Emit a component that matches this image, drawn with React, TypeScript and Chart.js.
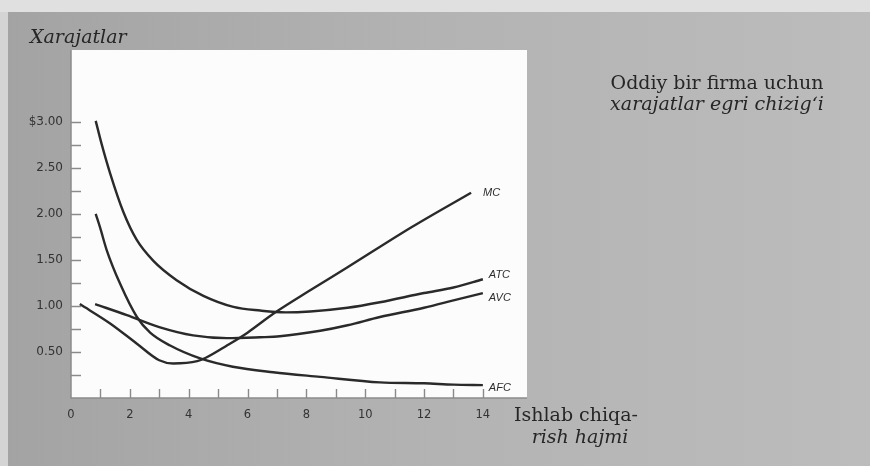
import React, { useEffect, useRef } from "react";
import { Chart, registerables } from "chart.js";

Chart.register(...registerables);

// ---- data ----
const mcX = [0.3, 1.33, 2.24, 3.0, 3.47, 4.29, 4.6, 5.3, 6.0, 6.9, 8.13, 9.4, 11.6, 13.6];
const mcY = [1.02, 0.81, 0.59, 0.41, 0.375, 0.4, 0.44, 0.57, 0.71, 0.92, 1.17, 1.42, 1.86, 2.23];

const atcX = [0.84, 1.04, 1.33, 1.78, 2.23, 2.8, 3.59, 4.5, 5.52, 6.43, 7.3, 8.13, 9.4, 10.5, 12, 13, 14];
const atcY = [3.01, 2.76, 2.44, 2.02, 1.72, 1.49, 1.28, 1.11, 0.99, 0.95, 0.93, 0.94, 0.98, 1.04, 1.14, 1.2, 1.29];

const avcX = [0.82, 1.9, 3.0, 4.15, 5.3, 6.43, 7.1, 8.47, 9.4, 10.5, 12, 13, 14];
const avcY = [1.02, 0.9, 0.77, 0.68, 0.65, 0.66, 0.67, 0.73, 0.79, 0.88, 0.98, 1.06, 1.14];

const afcX = [0.84, 0.99, 1.21, 1.67, 2.24, 2.69, 3.37, 4.39, 5.5, 6.87, 8.47, 10.5, 12, 13, 14];
const afcY = [2.0, 1.85, 1.61, 1.24, 0.88, 0.71, 0.57, 0.43, 0.34, 0.28, 0.23, 0.17, 0.16, 0.145, 0.14];

const seriesNames = ["MC", "ATC", "AVC", "AFC"];

// tick marks and labels
const xTickMarks = [1, 2, 3, 4, 5, 6, 7, 8, 9, 10, 11, 12, 13, 14];
const yTickMarks = [0.25, 0.5, 0.75, 1, 1.25, 1.5, 1.75, 2, 2.25, 2.5, 2.75, 3];
const xLabelMax = 14;
const yLabelMax = 3;

// texts
const yAxisTitle = "Xarajatlar";
const noteLines = ["Oddiy bir firma uchun", "xarajatlar egri chizigʻi"];
const xAxisTitleLines = ["Ishlab chiqa-", "rish hajmi"];

// ---- styling ----
const LINE = "#2a2a2a";
const labelOffsets = [
  { dx: 12, dy: 0 },
  { dx: 6, dy: -4 },
  { dx: 6, dy: 5 },
  { dx: 6, dy: 3 },
];

const toPoints = (xs: number[], ys: number[]) => xs.map((x, i) => ({ x, y: ys[i] }));

const bgPlugin = {
  id: "scanBg",
  beforeDraw(chart: any) {
    const { ctx, width, height, chartArea: a } = chart;
    ctx.save();
    const g = ctx.createLinearGradient(0, 0, width, 0);
    g.addColorStop(0, "#a3a3a3");
    g.addColorStop(0.5, "#b3b3b3");
    g.addColorStop(1, "#bcbcbc");
    ctx.fillStyle = g;
    ctx.fillRect(0, 0, width, height);
    ctx.fillStyle = "#e0e0e0";
    ctx.fillRect(0, 0, width, 12);
    ctx.fillStyle = "#d4d4d4";
    ctx.fillRect(0, 12, 8, height - 12);
    ctx.fillStyle = "#fcfcfc";
    ctx.fillRect(a.left, a.top, a.right - a.left, a.bottom - a.top);
    ctx.restore();
  },
  beforeDatasetsDraw(chart: any) {
    const { ctx, chartArea: a, scales } = chart;
    const xs = scales.x;
    const ys = scales.y;
    ctx.save();
    ctx.strokeStyle = "#8c8c8c";
    ctx.lineWidth = 1.5;
    ctx.beginPath();
    ctx.moveTo(a.left, a.top);
    ctx.lineTo(a.left, a.bottom);
    ctx.lineTo(a.right, a.bottom);
    ctx.stroke();
    ctx.strokeStyle = "#8a8a8a";
    ctx.lineWidth = 1.4;
    ctx.beginPath();
    xTickMarks.forEach((v) => {
      const px = Math.round(xs.getPixelForValue(v)) + 0.5;
      ctx.moveTo(px, a.bottom);
      ctx.lineTo(px, a.bottom - 9);
    });
    yTickMarks.forEach((v) => {
      const py = Math.round(ys.getPixelForValue(v)) + 0.5;
      ctx.moveTo(a.left, py);
      ctx.lineTo(a.left + 10, py);
    });
    ctx.stroke();
    ctx.restore();
  },
  afterDraw(chart: any) {
    const { ctx } = chart;
    ctx.save();
    ctx.fillStyle = "#262626";
    ctx.textBaseline = "alphabetic";
    ctx.textAlign = "left";
    ctx.font = "italic 19px 'DejaVu Serif'";
    ctx.fillText(yAxisTitle, 30, 43);
    ctx.textAlign = "center";
    ctx.font = "19px 'DejaVu Serif'";
    ctx.fillText(noteLines[0], 717, 89);
    ctx.font = "italic 19px 'DejaVu Serif'";
    ctx.fillText(noteLines[1], 717, 110);
    ctx.font = "19px 'DejaVu Serif'";
    ctx.fillText(xAxisTitleLines[0], 576, 421);
    ctx.font = "italic 19px 'DejaVu Serif'";
    ctx.fillText(xAxisTitleLines[1], 580, 443);
    ctx.textAlign = "left";
    ctx.textBaseline = "middle";
    ctx.font = "italic 11px 'Liberation Sans'";
    ctx.fillStyle = "#2e2e2e";
    chart.data.datasets.forEach((ds: any, i: number) => {
      const meta = chart.getDatasetMeta(i);
      const last = meta.data[meta.data.length - 1];
      if (!last) return;
      ctx.fillText(ds.label, last.x + labelOffsets[i].dx, last.y + labelOffsets[i].dy);
    });
    ctx.restore();
  },
};

export default function App() {
  const ref = useRef<HTMLCanvasElement | null>(null);

  useEffect(() => {
    if (!ref.current) return;
    const seriesX = [mcX, atcX, avcX, afcX];
    const seriesY = [mcY, atcY, avcY, afcY];
    const chart = new Chart(ref.current, {
      type: "line",
      data: {
        datasets: seriesNames.map((name, i) => ({
          label: name,
          data: toPoints(seriesX[i], seriesY[i]),
          borderColor: LINE,
          borderWidth: 2.4,
          pointRadius: 0,
          fill: false,
          cubicInterpolationMode: "monotone" as const,
        })),
      },
      options: {
        animation: false,
        responsive: false,
        maintainAspectRatio: false,
        layout: { padding: { left: 0, top: 50, right: 343, bottom: 0 } },
        plugins: {
          legend: { display: false },
          tooltip: { enabled: false },
          title: { display: false },
        },
        scales: {
          x: {
            type: "linear",
            min: 0,
            max: 15.5,
            grid: { display: false, drawTicks: false },
            border: { display: false },
            afterFit: (s: any) => {
              s.height = 68;
            },
            ticks: {
              stepSize: 2,
              padding: 10,
              color: "#333333",
              font: { family: "DejaVu Sans", size: 11.5 },
              maxRotation: 0,
              autoSkip: false,
              callback: (v: any) => (Number(v) > xLabelMax ? null : String(v)),
            },
          },
          y: {
            type: "linear",
            min: 0,
            max: 3.78,
            grid: { display: false, drawTicks: false },
            border: { display: false },
            afterFit: (s: any) => {
              s.width = 71;
            },
            ticks: {
              stepSize: 0.5,
              padding: 8,
              color: "#333333",
              font: { family: "DejaVu Sans", size: 12 },
              autoSkip: false,
              callback: (v: any) => {
                const n = Number(v);
                if (n <= 0 || n > yLabelMax + 1e-6) return null;
                return n === yLabelMax ? "$" + n.toFixed(2) : n.toFixed(2);
              },
            },
          },
        },
      },
      plugins: [bgPlugin],
    });
    return () => chart.destroy();
  }, []);

  return (
    <div style={{ position: "fixed", left: 0, top: 0, width: 870, height: 466 }}>
      <canvas ref={ref} width={870} height={466} style={{ display: "block" }} />
    </div>
  );
}
